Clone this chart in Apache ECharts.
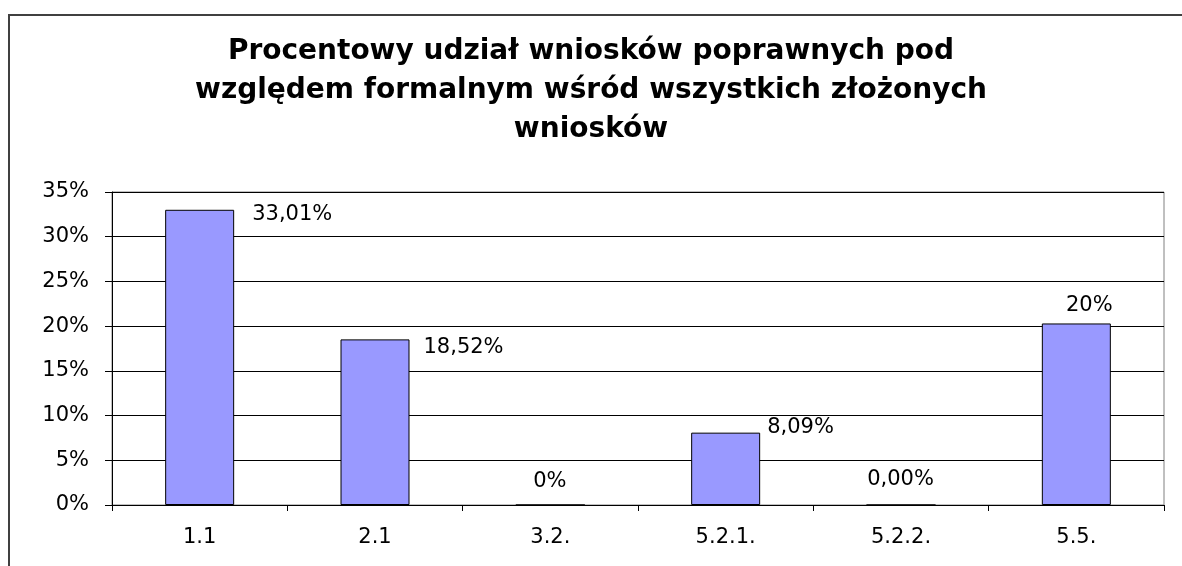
<!DOCTYPE html>
<html>
<head>
<meta charset="utf-8">
<title>Procentowy udział wniosków</title>
<script src="https://cdn.jsdelivr.net/npm/echarts@6/dist/echarts.min.js"></script>
<style>
    html, body {margin: 0; padding: 0; background: #fff;}
    #chart {width: 1182px; height: 566px;}
</style>
</head>
<body>
<div id="chart"></div>
<script>
// dane wykresu
var categories = ['1.1', '2.1', '3.2.', '5.2.1.', '5.2.2.', '5.5.'];
var values = [33.01, 18.52, 0, 8.09, 0, 20.3];
var valueLabels = ['33,01%', '18,52%', '0%', '8,09%', '0,00%', '20%'];
var yTicks = [0, 5, 10, 15, 20, 25, 30, 35];

var chart = echarts.init(document.getElementById('chart'));
var font = 'DejaVu Sans, Verdana, sans-serif';
var barW = 69;

// rozmieszczenie etykiet jak w oryginale (względem lewego górnego rogu słupka)
var labelPlace = [
    {position: [barW + 18, 5], align: 'left'},
    {position: [barW + 14, 8], align: 'left'},
    {position: [barW / 2, -23], align: 'center'},
    {position: [barW + 7, -5], align: 'left'},
    {position: [barW / 2, -25], align: 'center'},
    {position: [barW / 2 + 13, -18], align: 'center'}
];

var option = {
    animation: false,
    title: {
        text: 'Procentowy udział wniosków poprawnych pod\nwzględem formalnym wśród wszystkich złożonych\nwniosków',
        left: 'center',
        top: 27,
        textStyle: {
            fontFamily: font,
            fontSize: 28,
            fontWeight: 'bold',
            color: '#000',
            lineHeight: 39
        }
    },
    graphic: [{
        type: 'rect',
        shape: {x: 9, y: 15, width: 1200, height: 600},
        style: {fill: 'none', stroke: '#404040', lineWidth: 2},
        silent: true
    }],
    grid: {
        left: 112,
        right: 18,
        top: 192,
        bottom: 61,
        show: true,
        borderColor: '#808080',
        borderWidth: 1,
        backgroundColor: '#fff'
    },
    xAxis: {
        type: 'category',
        data: categories,
        axisLine: {lineStyle: {color: '#000', width: 1}},
        axisTick: {show: true, alignWithLabel: false, length: 6, lineStyle: {color: '#000'}},
        axisLabel: {
            fontFamily: font,
            fontSize: 21,
            color: '#000',
            margin: 22
        }
    },
    yAxis: {
        type: 'value',
        min: yTicks[0],
        max: yTicks[yTicks.length - 1],
        interval: yTicks[1] - yTicks[0],
        axisLine: {show: true, lineStyle: {color: '#000', width: 1}},
        axisTick: {show: true, length: 7, lineStyle: {color: '#000'}},
        splitLine: {lineStyle: {color: '#000', width: 1}},
        axisLabel: {
            fontFamily: font,
            fontSize: 21,
            color: '#000',
            margin: 23,
            formatter: '{value}%'
        }
    },
    series: [{
        type: 'bar',
        barWidth: barW,
        itemStyle: {
            color: '#9999FF',
            borderColor: '#000',
            borderWidth: 1
        },
        label: {
            show: true,
            fontFamily: font,
            fontSize: 21,
            color: '#000',
            verticalAlign: 'middle'
        },
        data: values.map(function (v, i) {
            return {
                value: v,
                label: {
                    position: labelPlace[i].position,
                    align: labelPlace[i].align,
                    formatter: valueLabels[i]
                }
            };
        })
    }]
};

chart.setOption(option);
</script>
</body>
</html>
